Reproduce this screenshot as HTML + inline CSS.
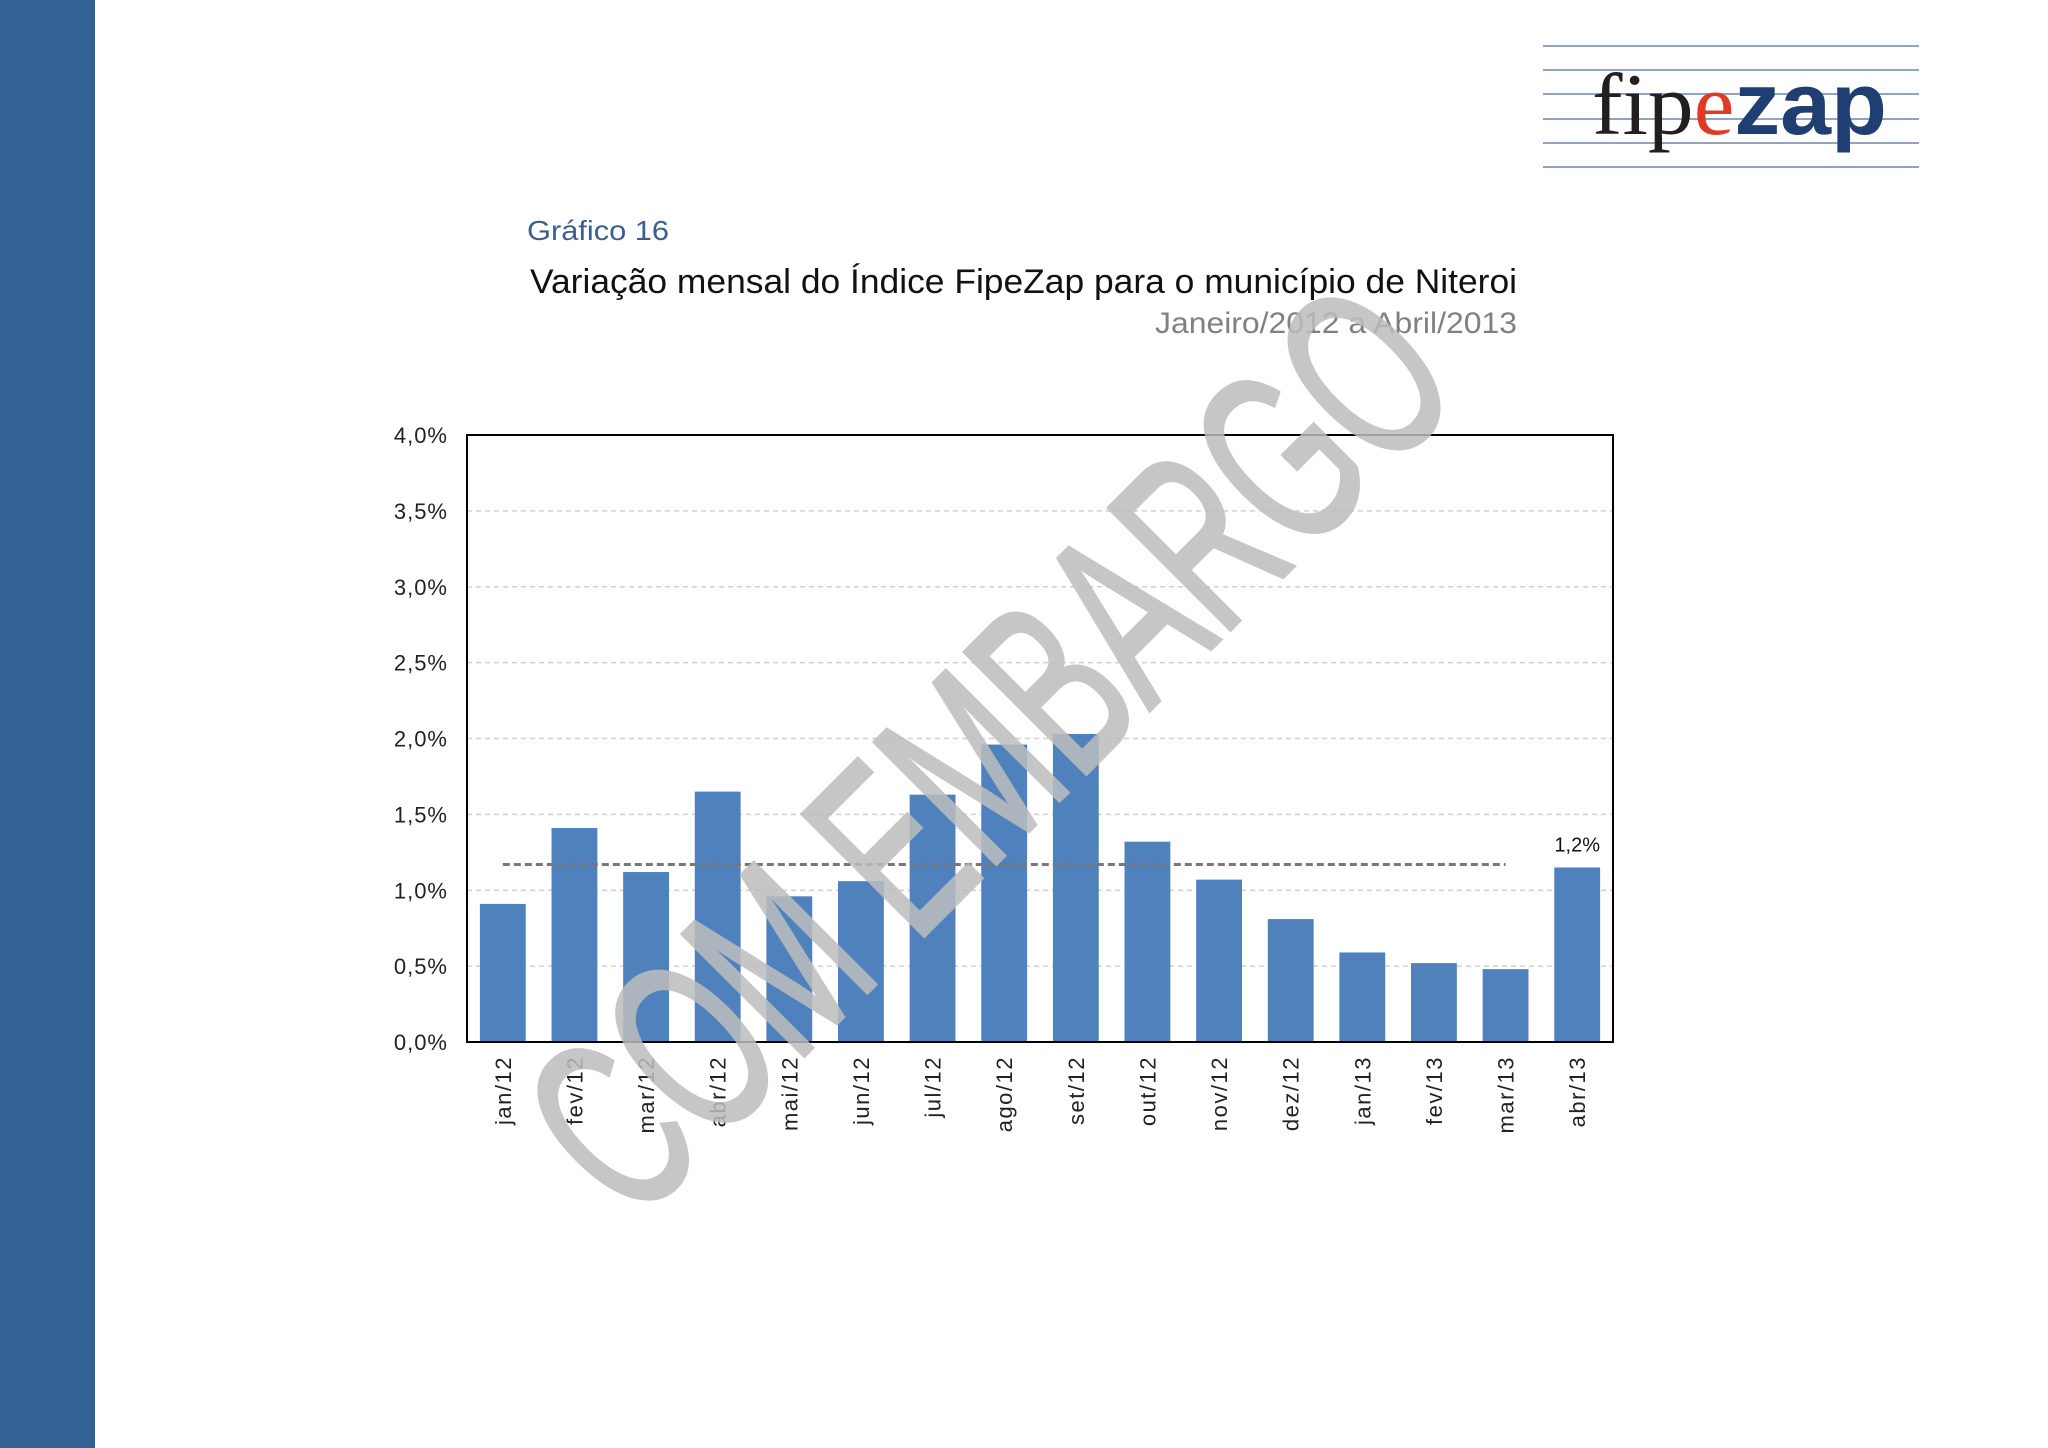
<!DOCTYPE html>
<html><head><meta charset="utf-8"><style>
html,body{margin:0;padding:0;background:#fff;}
svg{display:block;font-family:"Liberation Sans",sans-serif;}
</style></head><body>
<svg width="2048" height="1448" viewBox="0 0 2048 1448">
<rect x="0" y="0" width="95" height="1448" fill="#336196"/>
<g>
  <g stroke="#8ea3c6" stroke-width="2">
    <line x1="1543" y1="46" x2="1919" y2="46"/><line x1="1543" y1="70" x2="1919" y2="70"/>
    <line x1="1543" y1="94" x2="1919" y2="94"/><line x1="1543" y1="119" x2="1919" y2="119"/>
    <line x1="1543" y1="143" x2="1919" y2="143"/><line x1="1543" y1="167" x2="1919" y2="167"/>
  </g>
  <text x="1592" y="134" font-size="88" textLength="295" lengthAdjust="spacingAndGlyphs"><tspan font-family="Liberation Serif,serif" fill="#231f20">fip</tspan><tspan font-family="Liberation Serif,serif" fill="#e03a24">e</tspan><tspan font-weight="bold" fill="#1f3f73">zap</tspan></text>
</g>
<text x="527" y="240" font-size="28" fill="#3b5f8e" textLength="142" lengthAdjust="spacingAndGlyphs">Gráfico 16</text>
<text x="530" y="293" font-size="34" fill="#111" textLength="987" lengthAdjust="spacingAndGlyphs">Variação mensal do Índice FipeZap para o município de Niteroi</text>
<text x="1155" y="333" font-size="30" fill="#808080" textLength="362" lengthAdjust="spacingAndGlyphs">Janeiro/2012 a Abril/2013</text>
<g id="chart"></g>
<text transform="translate(1050,810) rotate(-45)" text-anchor="middle" font-size="250" fill="#bdbdbd" stroke="#bdbdbd" stroke-width="4" textLength="1180" lengthAdjust="spacingAndGlyphs" opacity="0.85">COM EMBARGO</text>
</svg>
<script>
const categories=["jan/12","fev/12","mar/12","abr/12","mai/12","jun/12","jul/12","ago/12","set/12","out/12","nov/12","dez/12","jan/13","fev/13","mar/13","abr/13"];
const values=[0.91,1.41,1.12,1.65,0.96,1.06,1.63,1.96,2.03,1.32,1.07,0.81,0.59,0.52,0.48,1.15];
const yTicks=[0,0.5,1.0,1.5,2.0,2.5,3.0,3.5,4.0];
const yTickLabels=["0,0%","0,5%","1,0%","1,5%","2,0%","2,5%","3,0%","3,5%","4,0%"];
const averageValue=1.17;
const lastLabel="1,2%";
const NS="http://www.w3.org/2000/svg";
const g=document.getElementById('chart');
const L=467,R=1613,T=435,B=1042,yMax=4;
const slot=(R-L)/categories.length, bw=slot*0.64;
const y=v=>B-(v/yMax)*(B-T);
const xc=i=>L+slot*(i+0.5);
function mk(t,a){const e=document.createElementNS(NS,t);for(const k in a)e.setAttribute(k,a[k]);g.appendChild(e);return e;}
yTicks.forEach((t,i)=>{
  if(t>0&&t<yMax){const l=mk('line',{x1:L,x2:R,y1:y(t),y2:y(t),stroke:'#d0d0d0','stroke-width':1.5,'stroke-dasharray':'5,4'});
  
  }
  const tx=mk('text',{x:448,y:y(t)+8,'text-anchor':'end','font-size':22,'letter-spacing':1,fill:'#222'});
  tx.textContent=yTickLabels[i];
  
  
});
values.forEach((v,i)=>{
  const r=mk('rect',{x:xc(i)-bw/2,y:y(v),width:bw,height:B-y(v),fill:'#4f81bd'});
  
  
  const tx=mk('text',{transform:`translate(${xc(i)+8},${B+14}) rotate(-90)`,'text-anchor':'end','font-size':22,'letter-spacing':1.5,fill:'#222'});
  tx.textContent=categories[i];
  
  
});
const n=categories.length;
const avg=mk('line',{x1:xc(0),x2:xc(n-2),y1:y(averageValue),y2:y(averageValue),stroke:'#777','stroke-width':3,'stroke-dasharray':'7,4'});


const lab=mk('text',{x:xc(n-1),y:y(values[n-1])-16,'text-anchor':'middle','font-size':20,fill:'#111'});
lab.textContent=lastLabel;


const fr=mk('rect',{x:L,y:T,width:R-L,height:B-T,fill:'none',stroke:'#000','stroke-width':2});


</script>
</body></html>
